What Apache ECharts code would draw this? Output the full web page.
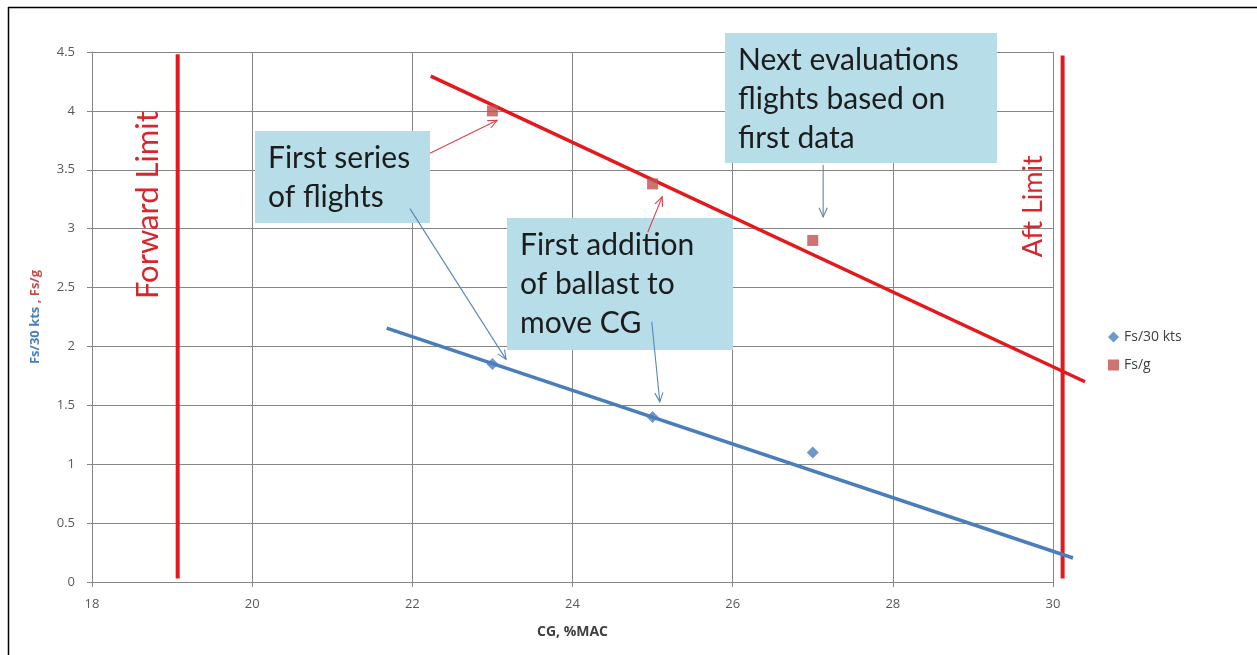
<!DOCTYPE html>
<html>
<head>
<meta charset="utf-8">
<script src="https://cdn.jsdelivr.net/npm/echarts@6/dist/echarts.min.js"></script>
<style>
html,body{margin:0;padding:0;background:#fff;}
#chartmain{width:1257px;height:655px;}
</style>
</head>
<body>
<div id="chartmain"></div>
<script>
// measured points, CG in %MAC
var cgPoints=[23,25,27];
var fs30kts=[1.85,1.4,1.1];
var fsPerG=[4.0,3.38,2.9];
// trend lines drawn by hand on the original, [cg, value]
var blueTrend=[[21.68,2.156],[30.25,0.204]];
var redTrend=[[22.23,4.295],[30.40,1.70]];
// cg limits
var forwardLimit=[[19.07,0.03],[19.07,4.48]];
var aftLimit=[[30.12,0.03],[30.12,4.47]];
// callout arrows, [from, to] in data units
var arrowsRed=[[[22.22,3.64],[23.06,3.92]],[[24.94,2.97],[25.12,3.27]]];
var arrowsBlue=[[[21.97,3.17],[23.17,1.89]],[[24.99,2.21],[25.09,1.53]]];
var arrowsGrey=[[[27.13,3.54],[27.13,3.10]]];

var RED="#E3191E",BLUE="#4A7EBB",SQRED="#C0504D";
var TXT="'Lato','Liberation Sans',sans-serif";
var AX="'Open Sans',sans-serif";

function pair(xs,ys){
	var out=[];
	for(var i=0;i<xs.length;i++){out.push([xs[i],ys[i]]);}
	return out;
}

var option={
	animation:false,
	grid:{left:92,top:52,right:204,bottom:73},
	legend:{
		orient:'vertical',
		left:1103,
		top:325,
		itemGap:14,
		itemWidth:11,
		itemHeight:11,
		textStyle:{fontFamily:AX,fontSize:14,color:'#404040'},
		data:[{name:'Fs/30 kts',icon:'diamond'},{name:'Fs/g',icon:'rect'}]
	},
	xAxis:{
		type:'value',min:18,max:30,interval:2,
		name:'CG, %MAC',
		nameLocation:'middle',
		nameGap:43,
		nameTextStyle:{fontFamily:AX,fontSize:14,fontWeight:'bold',color:'#404040'},
		axisLine:{lineStyle:{color:'#868686',width:1}},
		axisTick:{show:true,length:5,lineStyle:{color:'#868686'}},
		axisLabel:{margin:16,fontFamily:AX,fontSize:13,color:'#595959'},
		splitLine:{show:true,lineStyle:{color:'#868686',width:1}}
	},
	yAxis:{
		type:'value',min:0,max:4.5,interval:0.5,
		name:'{b|Fs/30 kts} {r|, Fs/g}',
		nameLocation:'middle',
		nameRotate:90,
		nameGap:50,
		nameTextStyle:{
			rich:{
				b:{fontFamily:AX,fontSize:13,fontWeight:'bold',color:BLUE},
				r:{fontFamily:AX,fontSize:13,fontWeight:'bold',color:SQRED}
			}
		},
		axisLine:{show:true,lineStyle:{color:'#868686',width:1}},
		axisTick:{show:true,length:5,lineStyle:{color:'#868686'}},
		axisLabel:{margin:17,fontFamily:AX,fontSize:13,color:'#595959'},
		splitLine:{show:true,lineStyle:{color:'#868686',width:1}}
	},
	series:[
		{name:'Fs/30 kts',type:'scatter',data:pair(cgPoints,fs30kts),symbol:'diamond',symbolSize:12,
			itemStyle:{color:BLUE},z:5},
		{name:'Fs/g',type:'scatter',data:pair(cgPoints,fsPerG),symbol:'rect',symbolSize:11,
			itemStyle:{color:SQRED},z:5}
	]
};

var myChart=echarts.init(document.getElementById('chartmain'));
myChart.setOption(option);

function px(p){return myChart.convertToPixel({gridIndex:0},p);}

// trend and limit lines run past the plot edge, so they go through graphic with the axis scale
function pathLine(pts,color,width){
	return {type:'polyline',shape:{points:pts.map(px)},style:{stroke:color,lineWidth:width,fill:null},z:4,silent:true};
}

function arrowGraphics(list,color){
	var out=[];
	list.forEach(function(a){
		var s=px(a[0]),e=px(a[1]);
		var ang=Math.atan2(e[1]-s[1],e[0]-s[0]);
		var L=10,w=0.42;
		var h1=[e[0]-L*Math.cos(ang-w),e[1]-L*Math.sin(ang-w)];
		var h2=[e[0]-L*Math.cos(ang+w),e[1]-L*Math.sin(ang+w)];
		out.push({type:'line',shape:{x1:s[0],y1:s[1],x2:e[0],y2:e[1]},style:{stroke:color,lineWidth:1.1},z:20});
		out.push({type:'polyline',shape:{points:[h1,e,h2]},style:{stroke:color,lineWidth:1.1,fill:null},z:20});
	});
	return out;
}

function callout(x,y,w,h,text){
	return {
		type:'group',z:15,
		children:[
			{type:'rect',shape:{x:x,y:y,width:w,height:h},style:{fill:'#B7DDE8'}},
			{type:'text',x:x+13,y:y+8,style:{text:text,font:"30px "+TXT,fill:'#1c1c1c',lineHeight:39}}
		]
	};
}

var fwd=px([forwardLimit[0][0],3.2]);
var aft=px([aftLimit[0][0],3.19]);
var graphics=[
	{type:'line',shape:{x1:8,y1:7.5,x2:1257,y2:7.5},style:{stroke:'#000',lineWidth:1.5},z:30},
	{type:'line',shape:{x1:8.5,y1:7,x2:8.5,y2:655},style:{stroke:'#000',lineWidth:1.5},z:30},
	pathLine(forwardLimit,RED,4),
	pathLine(aftLimit,RED,4),
	pathLine(blueTrend,BLUE,3.5),
	pathLine(redTrend,RED,3.5),
	{type:'text',x:fwd[0]-30,y:fwd[1],rotation:Math.PI/2,
		style:{text:'Forward Limit',font:"31px "+TXT,fill:'#D8262B',align:'center',verticalAlign:'middle'},z:10},
	{type:'text',x:aft[0]-29,y:aft[1],rotation:Math.PI/2,
		style:{text:'Aft Limit',font:"27px "+TXT,fill:'#D8262B',align:'center',verticalAlign:'middle'},z:10},
	callout(255,131,175,92,'First series\nof flights'),
	callout(507,218,226,132,'First addition\nof ballast to\nmove CG'),
	callout(725,33,272,130,'Next evaluations\nflights based on\nfirst data')
];
graphics=graphics.concat(arrowGraphics(arrowsRed,'#D9434E'))
	.concat(arrowGraphics(arrowsBlue,'#5A86B8'))
	.concat(arrowGraphics(arrowsGrey,'#6C849C'));
myChart.setOption({graphic:graphics});
</script>
</body>
</html>
